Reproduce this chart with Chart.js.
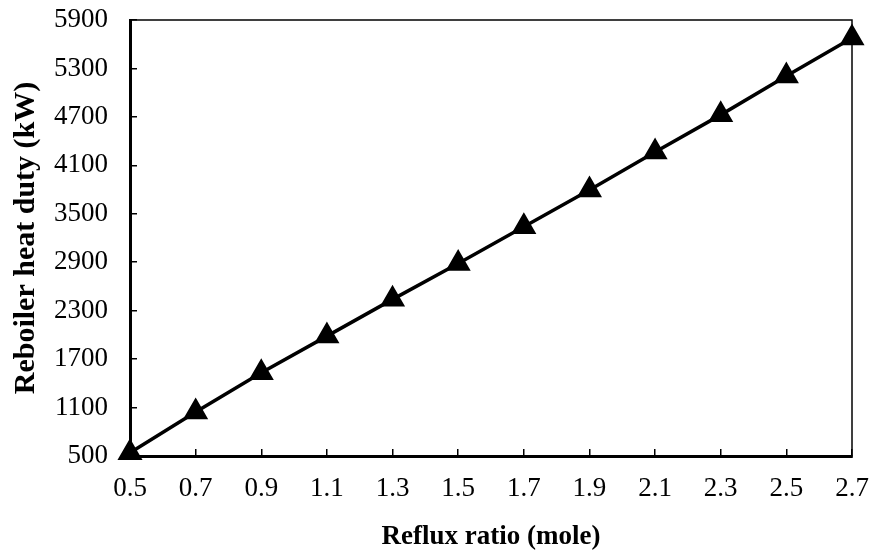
<!DOCTYPE html>
<html>
<head>
<meta charset="utf-8">
<script src="https://cdn.jsdelivr.net/npm/chart.js@4/dist/chart.umd.min.js"></script>
<style>
  html, body { margin: 0; padding: 0; background: #fff; }
  #wrap { width: 873px; height: 553px; }
</style>
</head>
<body>
<div id="wrap"><canvas id="chart"></canvas></div>
<script>
const refluxRatio = [0.5, 0.7, 0.9, 1.1, 1.3, 1.5, 1.7, 1.9, 2.1, 2.3, 2.5, 2.7];
const heatDuty = [540, 1045, 1530, 1985, 2440, 2884, 3340, 3795, 4265, 4725, 5206, 5677];
const xTicks = [0.5, 0.7, 0.9, 1.1, 1.3, 1.5, 1.7, 1.9, 2.1, 2.3, 2.5, 2.7];
const yTicks = [500, 1100, 1700, 2300, 2900, 3500, 4100, 4700, 5300, 5900];

const serif = "'Liberation Serif', 'Times New Roman', serif";
const font = { family: serif, size: 27 };

// outline the plot area (top and right edges)
const frame = {
  id: 'frame',
  afterDraw(chart) {
    const { ctx, chartArea } = chart;
    ctx.save();
    ctx.strokeStyle = '#000';
    ctx.lineWidth = 1.5;
    ctx.strokeRect(chartArea.left, chartArea.top, chartArea.right - chartArea.left, chartArea.bottom - chartArea.top);
    ctx.restore();
  }
};

new Chart(document.getElementById('chart'), {
  type: 'scatter',
  data: {
    datasets: [{
      data: refluxRatio.map((x, i) => ({ x: x, y: heatDuty[i] })),
      showLine: true,
      borderColor: '#000',
      backgroundColor: '#000',
      borderWidth: 3.5,
      pointStyle: 'triangle',
      pointRadius: 11,
      pointHoverRadius: 11,
      clip: false
    }]
  },
  options: {
    responsive: true,
    maintainAspectRatio: false,
    animation: false,
    layout: { padding: { top: 20, right: 21, left: 0, bottom: 0 } },
    plugins: { legend: { display: false }, tooltip: { enabled: false } },
    scales: {
      x: {
        type: 'linear',
        min: 0.5,
        max: 2.7,
        afterBuildTicks: axis => { axis.ticks = xTicks.map(v => ({ value: v })); },
        afterFit: axis => { axis.height = 97; axis.paddingLeft = 0; axis.paddingRight = 0; },
        grid: { drawOnChartArea: false, tickLength: -7, color: '#000', lineWidth: 1.5 },
        border: { color: '#000', width: 3 },
        ticks: { color: '#000', font: font, padding: 24, maxRotation: 0, callback: v => v.toFixed(1) },
        title: { display: true, text: 'Reflux ratio (mole)', color: '#000', font: { family: serif, size: 27, weight: 'bold' }, padding: { top: 0, bottom: 0 } }
      },
      y: {
        min: 500,
        max: 5900,
        afterBuildTicks: axis => { axis.ticks = yTicks.map(v => ({ value: v })); },
        afterFit: axis => { axis.width = 130; axis.paddingTop = 0; axis.paddingBottom = 0; },
        grid: { drawOnChartArea: false, tickLength: -7, color: '#000', lineWidth: 1.5 },
        border: { color: '#000', width: 3 },
        ticks: { color: '#000', font: font, padding: 29, callback: v => String(v) },
        title: { display: true, text: 'Reboiler heat duty (kW)', color: '#000', font: { family: serif, size: 30, weight: 'bold' }, padding: { top: 8, bottom: 0 } }
      }
    }
  },
  plugins: [frame]
});
</script>
</body>
</html>
